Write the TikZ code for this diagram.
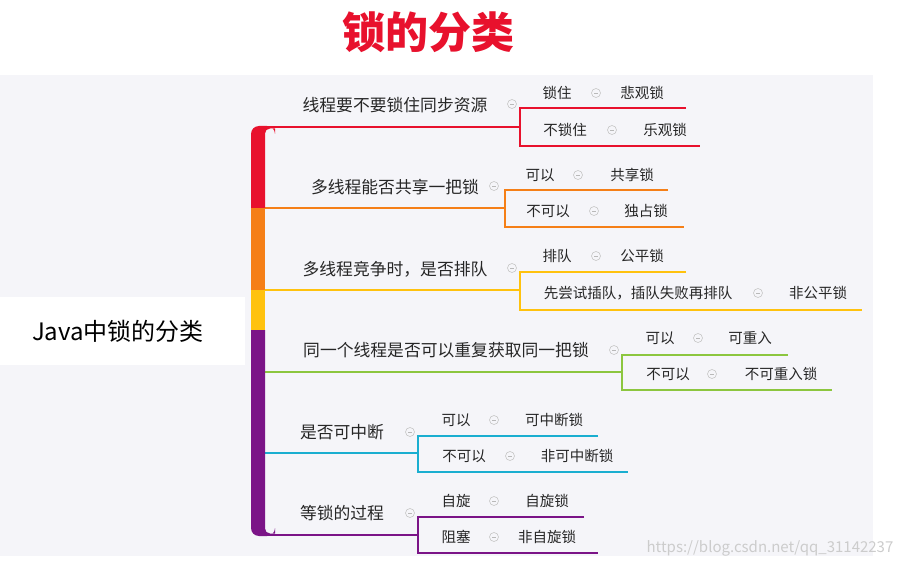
\documentclass[tikz,border=0pt]{standalone}
\usepackage{fontspec}
\setmainfont{Noto Sans CJK SC}
\begin{document}
\begin{tikzpicture}[x=1pt,y=-1pt,
  cat/.style={font=\fontsize{16.8}{18}\selectfont, text=black!85, inner sep=0},
  leaf/.style={font=\fontsize{14.5}{16}\selectfont, text=black!85, inner sep=0},
  mn/.style={circle,draw=gray!45,line width=0.6pt,minimum size=9pt,inner sep=0,
    path picture={\draw[gray!55,line width=0.6pt] ([xshift=-2pt]path picture bounding box.center)--([xshift=2pt]path picture bounding box.center);}},
  br/.style={line width=2.6pt}]
\definecolor{cR}{HTML}{E8112D}\definecolor{cO}{HTML}{F57F17}\definecolor{cY}{HTML}{FFC20E}
\definecolor{cG}{HTML}{8CC63F}\definecolor{cB}{HTML}{1AAED0}\definecolor{cP}{HTML}{7B1487}
\definecolor{bg}{HTML}{F5F5F9}
\useasboundingbox (0,0) rectangle (903,567);
\fill[white] (0,0) rectangle (903,567);
\fill[bg] (0,75) rectangle (873,556);
\node[font=\fontsize{43}{45}\selectfont\bfseries, text=cR] (title) at (428,32) {锁的分类};
\fill[white] (0,297) rectangle (245,365);
\node[font=\fontsize{24}{26}\selectfont, inner sep=0] (root) at (118,331) {Java中锁的分类};
% groups
\foreach \c/\yu/\xb/\yt/\yb/\xt/\xe/\n in {cR/127/520/108/146/686/700/a, cO/208/505/190/227/668/684/b, cY/290/520/272/310/686/862/c, cG/372/622/355/390/788/832/d, cB/453/418/436/472/598/628/e, cP/535/418/517/553/584/598/f}{
  \coordinate (s\n) at (258,\yu); \coordinate (j\n) at (\xb,\yu);
  \coordinate (t\n) at (\xt,\yt); \coordinate (u\n) at (\xe,\yb);
  \draw[\c,br] (s\n) -- (j\n);
  \draw[\c,br] (t\n) -- (\xb,\yt) -- (\xb,\yb) -- (u\n);
}
% trunk
\fill[cR] (265,208) -- (251,208) [rounded corners=8pt]-- (251,126) -- (275,126) [sharp corners]-- (275,128.5) [rounded corners=5pt]-- (265,128.5) [sharp corners]-- (265,208) -- cycle;
\fill[cO] (251,208) rectangle (265,290);
\fill[cY] (251,290) rectangle (265,330);
\fill[cP] (265,330) -- (251,330) [rounded corners=8pt]-- (251,536) -- (275,536) [sharp corners]-- (275,533.5) [rounded corners=5pt]-- (265,533.5) [sharp corners]-- (265,330) -- cycle;
\node[cat] (ca) at (395,105) {线程要不要锁住同步资源}; \node[mn] at (512,104) {};
\node[leaf] at (557,93) {锁住}; \node[mn] at (596,93) {}; \node[leaf] at (642,93) {悲观锁};
\node[leaf] at (565,130) {不锁住}; \node[mn] at (612,130) {}; \node[leaf] at (665,130) {乐观锁};
\node[cat] (cb) at (395,187) {多线程能否共享一把锁}; \node[mn] at (494,186) {};
\node[leaf] at (540,175) {可以}; \node[mn] at (578,175) {}; \node[leaf] at (632,175) {共享锁};
\node[leaf] at (548,211) {不可以}; \node[mn] at (594,211) {}; \node[leaf] at (646,211) {独占锁};
\node[cat] (cc) at (395,269) {多线程竞争时，是否排队}; \node[mn] at (512,268) {};
\node[leaf] at (638,293) {先尝试插队，插队失败再排队}; \node[mn] at (758,293) {}; \node[leaf] at (818,293) {非公平锁};
\node[leaf] at (557,256) {排队}; \node[mn] at (596,256) {}; \node[leaf] at (642,256) {公平锁};
\node[cat] (cd) at (446,350) {同一个线程是否可以重复获取同一把锁}; \node[mn] at (614,350) {};
\node[leaf] at (660,338) {可以}; \node[mn] at (698,338) {}; \node[leaf] at (750,338) {可重入};
\node[leaf] at (668,374) {不可以}; \node[mn] at (712,374) {}; \node[leaf] at (781,374) {不可重入锁};
\node[cat] (ce) at (342,432) {是否可中断}; \node[mn] at (410,432) {};
\node[leaf] at (456,420) {可以}; \node[mn] at (494,420) {}; \node[leaf] at (554,420) {可中断锁};
\node[leaf] at (464,456) {不可以}; \node[mn] at (510,456) {}; \node[leaf] at (577,456) {非可中断锁};
\node[cat] (cf) at (342,513) {等锁的过程}; \node[mn] at (410,513) {};
\node[leaf] at (456,501) {自旋}; \node[mn] at (494,501) {}; \node[leaf] at (547,501) {自旋锁};
\node[leaf] at (456,537) {阻塞}; \node[mn] at (494,537) {}; \node[leaf] at (547,537) {非自旋锁};
\node[font=\fontsize{15}{17}\selectfont, text=black!20, inner sep=0] (wm) at (770,548) {https://blog.csdn.net/qq\_31142237};
\end{tikzpicture}
\end{document}
